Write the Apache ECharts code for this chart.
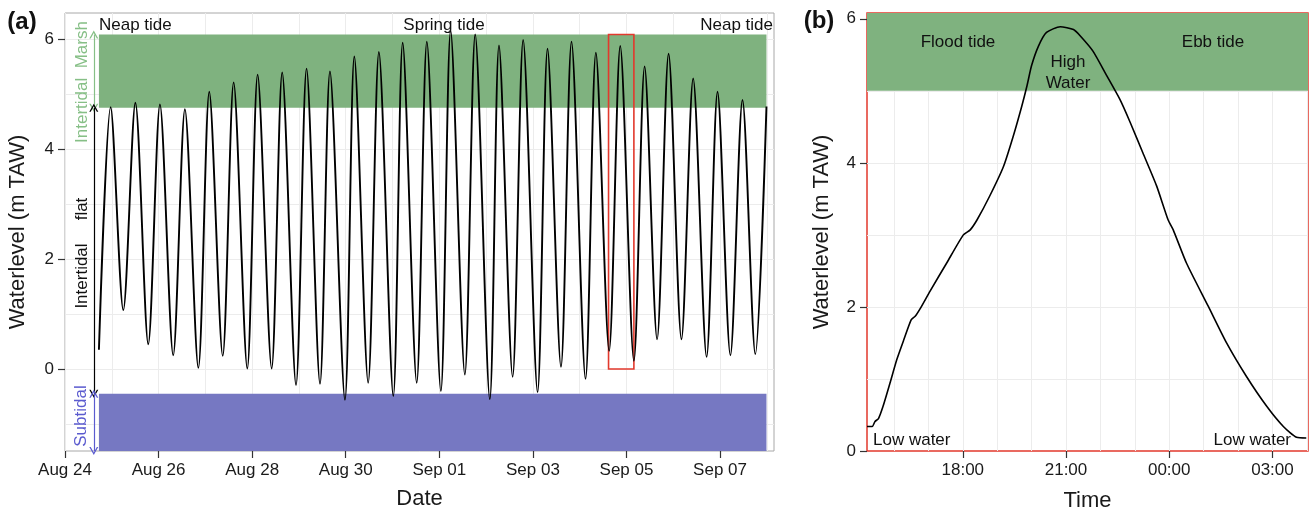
<!DOCTYPE html>
<html>
<head>
<meta charset="utf-8">
<script src="https://cdn.jsdelivr.net/npm/echarts@6/dist/echarts.min.js"></script>
<style>
  html, body { margin: 0; padding: 0; background: #fff; }
  #chart { width: 1314px; height: 513px; }
</style>
</head>
<body>
<div id="chart"></div>
<script>
// ---------------- Panel (a): waterlevel time series (extremes)
const tideTimeA = [
  '2014-08-24 17:24', '2014-08-24 23:24', '2014-08-25 05:54', '2014-08-25 12:06', '2014-08-25 18:42',
  '2014-08-26 00:42', '2014-08-26 07:30', '2014-08-26 13:30', '2014-08-26 20:24', '2014-08-27 02:00',
  '2014-08-27 08:54', '2014-08-27 14:30', '2014-08-27 21:30', '2014-08-28 02:48', '2014-08-28 10:00',
  '2014-08-28 15:24', '2014-08-28 22:30', '2014-08-29 03:54', '2014-08-29 10:48', '2014-08-29 15:54',
  '2014-08-29 23:36', '2014-08-30 04:24', '2014-08-30 11:30', '2014-08-30 17:00', '2014-08-31 00:24',
  '2014-08-31 05:12', '2014-08-31 12:24', '2014-08-31 17:36', '2014-09-01 00:48', '2014-09-01 05:48',
  '2014-09-01 13:06', '2014-09-01 18:24', '2014-09-02 01:54', '2014-09-02 06:36', '2014-09-02 13:36',
  '2014-09-02 19:00', '2014-09-03 02:24', '2014-09-03 07:30', '2014-09-03 14:24', '2014-09-03 19:48',
  '2014-09-04 03:00', '2014-09-04 08:18', '2014-09-04 15:06', '2014-09-04 20:48', '2014-09-05 03:48',
  '2014-09-05 09:18', '2014-09-05 15:42', '2014-09-05 21:36', '2014-09-06 04:12', '2014-09-06 10:12',
  '2014-09-06 17:06', '2014-09-06 22:42', '2014-09-07 05:18', '2014-09-07 11:30', '2014-09-07 18:06',
  '2014-09-07 23:48'
];
const tideLevelA = [
  0.35, 4.76, 1.07, 4.84, 0.45,
  4.81, 0.25, 4.72, 0.02, 5.04,
  0.24, 5.21, 0.01, 5.35, 0.01,
  5.39, -0.29, 5.46, -0.27, 5.41,
  -0.56, 5.68, -0.25, 5.76, -0.49,
  5.93, -0.25, 5.95, -0.40, 6.15,
  -0.10, 6.08, -0.55, 5.88, -0.14,
  5.98, -0.42, 5.82, 0.04, 5.95,
  -0.18, 5.75, 0.33, 5.87, 0.15,
  5.50, 0.54, 5.73, 0.54, 5.28,
  0.22, 5.04, 0.25, 4.89, 0.27,
  4.77
];

// ---------------- Panel (b): one tidal cycle
const tideTimeB = [
  '2014-09-04 15:13', '2014-09-04 15:22', '2014-09-04 15:27', '2014-09-04 15:33', '2014-09-04 15:41',
  '2014-09-04 15:53', '2014-09-04 16:05', '2014-09-04 16:17', '2014-09-04 16:30', '2014-09-04 16:37',
  '2014-09-04 16:46', '2014-09-04 17:03', '2014-09-04 17:32', '2014-09-04 18:01', '2014-09-04 18:13',
  '2014-09-04 18:25', '2014-09-04 18:47', '2014-09-04 19:11', '2014-09-04 19:28', '2014-09-04 19:43',
  '2014-09-04 19:52', '2014-09-04 20:00', '2014-09-04 20:12', '2014-09-04 20:26', '2014-09-04 20:50',
  '2014-09-04 21:13', '2014-09-04 21:25', '2014-09-04 21:47', '2014-09-04 22:11', '2014-09-04 22:34',
  '2014-09-04 22:52', '2014-09-04 23:14', '2014-09-04 23:38', '2014-09-04 23:58', '2014-09-05 00:07',
  '2014-09-05 00:30', '2014-09-05 01:08', '2014-09-05 01:40', '2014-09-05 02:15', '2014-09-05 02:50',
  '2014-09-05 03:19', '2014-09-05 03:42', '2014-09-05 03:59'
];
const tideLevelB = [
  0.34, 0.34, 0.41, 0.45, 0.62,
  0.94, 1.27, 1.54, 1.82, 1.87,
  1.98, 2.22, 2.61, 3.00, 3.07,
  3.21, 3.54, 3.95, 4.37, 4.79,
  5.07, 5.35, 5.62, 5.81, 5.89,
  5.85, 5.76, 5.55, 5.21, 4.88,
  4.56, 4.14, 3.68, 3.21, 3.07,
  2.61, 2.01, 1.50, 1.03, 0.62,
  0.34, 0.19, 0.18
];

// ---------------- Ticks, grid values and zones
const dateTicksA = ['2014-08-24', '2014-08-26', '2014-08-28', '2014-08-30', '2014-09-01', '2014-09-03', '2014-09-05', '2014-09-07'];
const dayGridA = ['2014-08-24', '2014-08-25', '2014-08-26', '2014-08-27', '2014-08-28', '2014-08-29', '2014-08-30',
  '2014-08-31', '2014-09-01', '2014-09-02', '2014-09-03', '2014-09-04', '2014-09-05', '2014-09-06', '2014-09-07', '2014-09-08'];
const hourTicksB = ['2014-09-04 18:00', '2014-09-04 21:00', '2014-09-05 00:00', '2014-09-05 03:00'];
const hourGridB = ['2014-09-04 16:00', '2014-09-04 17:00', '2014-09-04 18:00', '2014-09-04 19:00', '2014-09-04 20:00',
  '2014-09-04 21:00', '2014-09-04 22:00', '2014-09-04 23:00', '2014-09-05 00:00', '2014-09-05 01:00',
  '2014-09-05 02:00', '2014-09-05 03:00', '2014-09-05 04:00'];
const levelTicks = [0, 2, 4, 6];
const levelGridA = [-1, 0, 1, 2, 3, 4, 5, 6];
const levelGridB = [1, 2, 3, 4, 5, 6];

const rangeA = ['2014-08-24 00:00', '2014-09-08 03:40'];
const levelRangeA = [-1.49, 6.47];
const rangeB = ['2014-09-04 15:13', '2014-09-05 04:02'];
const levelRangeB = [0, 6.08];

const marshZone = [4.75, 6.08];      // intertidal marsh
const subtidalZone = [-1.49, -0.45]; // subtidal
const highWaterZoneB = [5.0, 6.08];
const focusWindow = ['2014-09-04 14:48', '2014-09-05 03:48'];
const arrowTime = '2014-08-24 14:46';

// ---------------- Helpers
function ts(s) {
  const parts = s.split(' ');
  const d = parts[0].split('-').map(Number);
  const t = (parts[1] || '00:00').split(':').map(Number);
  return new Date(d[0], d[1] - 1, d[2], t[0], t[1]).getTime();
}
const pad2 = n => (n < 10 ? '0' : '') + n;
const MONTHS = ['Jan','Feb','Mar','Apr','May','Jun','Jul','Aug','Sep','Oct','Nov','Dec'];
const fmtDate = v => { const d = new Date(v); return MONTHS[d.getMonth()] + ' ' + pad2(d.getDate()); };
const fmtHour = v => { const d = new Date(v); return pad2(d.getHours()) + ':' + pad2(d.getMinutes()); };

// ---------------- Styling
const FONT = 'Liberation Sans, Arial, Helvetica, sans-serif';
const GREEN = '#7fb27f';
const BLUE = '#7678c2';
const GREEN_TXT = '#86bf86';
const BLUE_TXT = '#5b5bcf';
const RED = '#e2392d';
const GRIDC = '#ececec';
const chevron = 'path://M0,10 L5,0 L10,10 L8.4,10 L5,3.2 L1.6,10 Z';

const grids = [
  { left: 65, top: 13, width: 709, height: 438, show: true, borderColor: '#a8a8a8', borderWidth: 1, backgroundColor: '#fff', containLabel: false, outerBoundsMode: 'none' },
  { left: 867, top: 13, width: 441, height: 438, show: true, borderColor: RED, borderWidth: 1.5, backgroundColor: '#fff', containLabel: false, outerBoundsMode: 'none' }
];

function visX(gridIndex, range, ticks, fmt, name, nameGap) {
  const tv = ticks.map(ts);
  return {
    type: 'value', gridIndex, min: ts(range[0]), max: ts(range[1]), position: 'bottom',
    axisLine: { show: false, onZero: false },
    axisTick: { show: true, length: 7, customValues: tv, lineStyle: { color: '#333', width: 1.2 } },
    axisLabel: { customValues: tv, formatter: fmt, color: '#1a1a1a', fontSize: 17, fontFamily: FONT, margin: 11, hideOverlap: false, showMinLabel: true, showMaxLabel: true },
    splitLine: { show: false },
    name, nameLocation: 'middle', nameGap,
    nameTextStyle: { fontSize: 22, fontFamily: FONT, color: '#1a1a1a' }
  };
}
function gridX(gridIndex, range, vals) {
  return {
    type: 'value', gridIndex, min: ts(range[0]), max: ts(range[1]), position: 'bottom',
    axisLine: { show: false, onZero: false }, axisLabel: { show: false },
    axisTick: { show: false, customValues: vals.map(ts) },
    splitLine: { show: true, lineStyle: { color: GRIDC, width: 1 } }
  };
}
function visY(gridIndex, range, name, nameGap) {
  return {
    type: 'value', gridIndex, min: range[0], max: range[1],
    axisLine: { show: false, onZero: false },
    axisTick: { show: true, length: 7, customValues: levelTicks, lineStyle: { color: '#333', width: 1.2 } },
    axisLabel: { customValues: levelTicks, color: '#1a1a1a', fontSize: 17, fontFamily: FONT, margin: 11 },
    splitLine: { show: false },
    name, nameLocation: 'middle', nameGap,
    nameTextStyle: { fontSize: 22, fontFamily: FONT, color: '#1a1a1a' }
  };
}
function gridY(gridIndex, range, vals) {
  return {
    type: 'value', gridIndex, min: range[0], max: range[1],
    axisLine: { show: false, onZero: false }, axisLabel: { show: false },
    axisTick: { show: false, customValues: vals },
    splitLine: { show: true, lineStyle: { color: GRIDC, width: 1 } }
  };
}

const txt = (x, y, text, opt = {}) => ({
  type: 'text', x, y, rotation: opt.rot || 0, z: 100,
  style: {
    text, fill: opt.color || '#111', font: (opt.bold ? 'bold ' : '') + (opt.size || 17) + 'px ' + FONT,
    align: opt.align || 'center', verticalAlign: 'middle', lineHeight: opt.lh || 21
  }
});

const firstA = ts(tideTimeA[0]);
const lastA = ts(tideTimeA[tideTimeA.length - 1]);
const arrowT = ts(arrowTime);

const option = {
  animation: false,
  backgroundColor: '#fff',
  grid: grids,
  xAxis: [
    visX(0, rangeA, dateTicksA, fmtDate, 'Date', 37),
    gridX(0, rangeA, dayGridA),
    visX(1, rangeB, hourTicksB, fmtHour, 'Time', 39),
    gridX(1, rangeB, hourGridB)
  ],
  yAxis: [
    visY(0, levelRangeA, 'Waterlevel (m TAW)', 36),
    gridY(0, levelRangeA, levelGridA),
    visY(1, levelRangeB, 'Waterlevel (m TAW)', 34),
    gridY(1, levelRangeB, levelGridB)
  ],
  series: [
    {
      type: 'line', xAxisIndex: 0, yAxisIndex: 0, z: 3,
      data: tideTimeA.map((t, i) => [ts(t), tideLevelA[i]]),
      showSymbol: false, symbol: 'none', smooth: 0.3,
      lineStyle: { color: '#000', width: 1.9 },
      silent: true,
      markArea: {
        silent: true,
        data: [
          [{ coord: [firstA, marshZone[0]], itemStyle: { color: GREEN } }, { coord: [lastA, marshZone[1]] }],
          [{ coord: [firstA, subtidalZone[0]], itemStyle: { color: BLUE } }, { coord: [lastA, subtidalZone[1]] }]
        ]
      },
      markLine: {
        silent: true, symbol: [chevron, chevron], symbolSize: [9, 8], label: { show: false },
        data: [
          [{ coord: [arrowT, marshZone[1]], lineStyle: { color: GREEN_TXT, width: 1.2, type: 'solid' } }, { coord: [arrowT, marshZone[0]] }],
          [{ coord: [arrowT, marshZone[0]], lineStyle: { color: '#000', width: 1.2, type: 'solid' } }, { coord: [arrowT, subtidalZone[1]] }],
          [{ coord: [arrowT, subtidalZone[1]], lineStyle: { color: BLUE_TXT, width: 1.2, type: 'solid' } }, { coord: [arrowT, subtidalZone[0]] }]
        ]
      }
    },
    {
      type: 'line', xAxisIndex: 0, yAxisIndex: 0, z: 4, data: [], silent: true,
      markArea: {
        silent: true,
        itemStyle: { color: 'rgba(0,0,0,0)', borderColor: RED, borderWidth: 1.6 },
        data: [[{ coord: [ts(focusWindow[0]), 0] }, { coord: [ts(focusWindow[1]), marshZone[1]] }]]
      }
    },
    {
      type: 'line', xAxisIndex: 2, yAxisIndex: 2, z: 3,
      data: tideTimeB.map((t, i) => [ts(t), tideLevelB[i]]),
      showSymbol: false, symbol: 'none', smooth: 0.2,
      lineStyle: { color: '#000', width: 1.6 },
      silent: true,
      markArea: {
        silent: true,
        data: [[{ coord: [ts(rangeB[0]), highWaterZoneB[0]], itemStyle: { color: GREEN } }, { coord: [ts(rangeB[1]), highWaterZoneB[1]] }]]
      }
    }
  ],
  graphic: [
    txt(22, 22, '(a)', { bold: true, size: 24 }),
    txt(819, 21, '(b)', { bold: true, size: 24 }),
    txt(99, 25, 'Neap tide', { align: 'left' }),
    txt(444, 25, 'Spring tide'),
    txt(773, 25, 'Neap tide', { align: 'right' }),
    txt(82, 82, 'Intertidal  Marsh', { rot: Math.PI / 2, color: GREEN_TXT }),
    txt(82, 276, 'Intertidal', { rot: Math.PI / 2 }),
    txt(82, 209, 'flat', { rot: Math.PI / 2 }),
    txt(81, 416, 'Subtidal', { rot: Math.PI / 2, color: BLUE_TXT }),
    txt(958, 42, 'Flood tide'),
    txt(1213, 42, 'Ebb tide'),
    txt(1068, 73, 'High\nWater'),
    txt(873, 440, 'Low water', { align: 'left' }),
    txt(1291, 440, 'Low water', { align: 'right' })
  ]
};

const chart = echarts.init(document.getElementById('chart'), null, { renderer: 'canvas' });
chart.setOption(option);
</script>
</body>
</html>
